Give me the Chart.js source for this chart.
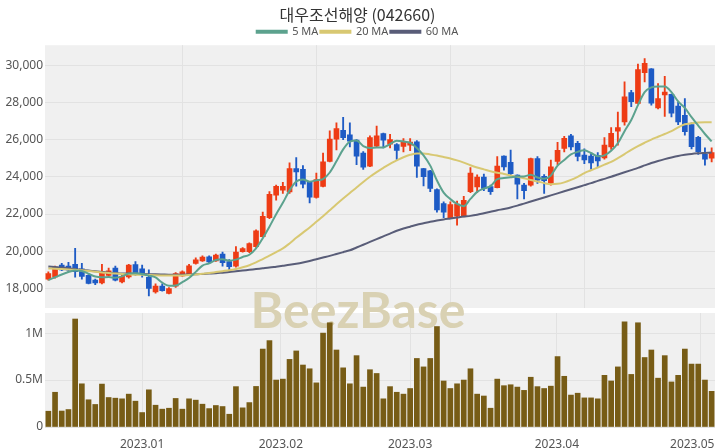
<!DOCTYPE html>
<html>
<head>
<meta charset="utf-8">
<script src="https://cdn.jsdelivr.net/npm/chart.js@4.4.1/dist/chart.umd.min.js"></script>
<style>
  html, body { margin: 0; padding: 0; background: #fff; }
  #wrap { position: relative; width: 720px; height: 448px; }
  #priceBox { position: absolute; left: 0; top: 0; width: 720px; height: 310px; }
  #volBox { position: absolute; left: 0; top: 310px; width: 720px; height: 138px; }
  canvas { display: block; }
</style>
</head>
<body>
<div id="wrap">
  <div id="priceBox"><canvas id="price" width="720" height="310"></canvas></div>
  <div id="volBox"><canvas id="volume" width="720" height="138"></canvas></div>
</div>
<script>
// daily candles, oldest first (100 trading days, Dec 2022 - May 2023)
const opens = [18500,18620,19250,19200,19300,19050,18700,18450,18300,18700,
  19100,18350,18620,19280,19050,18600,17820,18130,17740,18120,
  18680,18720,19340,19480,19700,19480,19850,19450,19200,19970,
  19970,20240,20780,21810,23010,23280,23190,24440,24400,23700,
  22890,23480,24830,26020,26500,26250,25970,25270,24570,25640,
  26320,25750,25730,25630,25700,25880,24440,24320,23310,22560,
  21800,21880,21880,23200,23460,23990,23480,23420,25110,24780,
  24090,23550,23550,24980,24020,23640,24820,25520,26200,25800,
  25160,25110,25150,25020,25610,26450,26950,28530,27940,29600,
  29800,27700,28400,28430,27800,27300,26800,26120,25200,25000];
const highs = [18900,19200,19350,19400,20150,19350,18750,18500,19300,19100,
  19200,18700,19300,19450,19250,19000,18250,18250,18050,18850,
  18950,19300,19650,19750,19750,19850,19950,19550,20250,20200,
  20450,21150,22110,23200,23550,23700,24750,25030,24600,23750,
  24200,25270,26470,26900,27200,26900,26000,25350,26200,26720,
  26350,26280,25780,26050,26050,25950,24450,24350,23350,22650,
  22650,22700,22950,24500,24100,24150,23550,25080,25120,25430,
  24100,23650,25000,25080,24120,24900,25850,26180,26280,25900,
  25500,25250,25300,26100,26650,27480,29100,28650,30060,30350,
  29820,29010,29400,28450,28000,28200,26900,26180,25550,25550];
const lows = [18450,18550,18950,18900,18600,18500,18250,18200,18250,18600,
  18400,18300,18550,18700,18600,17600,17750,17850,17700,18050,
  18650,18700,19300,19450,19350,19450,19200,19000,19150,19950,
  19920,20200,20750,21750,22750,23100,23100,23490,23400,22600,
  22850,23450,24800,25450,26000,25600,24650,24400,24550,25600,
  25550,25550,24930,25330,25400,23960,23510,23200,22100,21800,
  21750,21400,21850,23150,23150,23250,23050,23400,24350,24100,
  22810,22810,23500,23650,23100,23550,24650,25340,25450,24850,
  24710,24410,24500,24950,25470,25700,26770,27770,27940,29100,
  27850,27650,27250,27220,26800,26230,25500,25200,24630,24800];
const closes = [18800,19150,19000,18980,18900,18650,18270,18300,18900,18950,
  18450,18650,19250,18800,18750,18000,18130,17880,18000,18800,
  18890,19220,19540,19680,19430,19800,19380,19170,19960,20140,
  20410,21090,21880,23060,23490,23490,24440,24260,23600,22900,
  23850,24800,26020,26590,26100,25920,25110,24520,26110,26200,
  25970,26000,25420,25900,25870,24570,24000,23370,22220,22100,
  22500,22530,22740,24200,23990,23370,23200,24570,24530,24170,
  23600,23250,24980,23820,23790,24530,25420,26070,25600,25090,
  24900,24750,24850,25700,26340,26650,28300,28030,29760,30100,
  27950,28200,28550,27420,26950,26420,25620,25350,24950,25300];
const volumes = [168000,370000,170000,186000,1150000,460000,290000,240000,457000,314000,
  307000,300000,350000,275000,154000,396000,232000,190000,200000,304000,
  190000,300000,286000,243000,196000,229000,218000,136000,430000,204000,
  260000,432000,830000,920000,500000,510000,720000,810000,660000,620000,
  470000,1000000,1110000,820000,630000,460000,760000,425000,610000,570000,
  300000,430000,370000,350000,410000,730000,640000,730000,1070000,490000,
  410000,460000,500000,620000,350000,330000,200000,510000,440000,450000,
  425000,390000,530000,430000,410000,435000,750000,540000,340000,360000,
  310000,310000,300000,550000,490000,640000,1120000,560000,1110000,740000,
  820000,520000,760000,480000,550000,830000,670000,670000,500000,380000];

// moving averages as drawn on the chart
const ma5 = [18450,18600,18750,18880,18970,18940,18800,18640,18600,18610,
  18580,18650,18800,18820,18780,18690,18590,18310,18150,18160,
  18340,18560,18890,19230,19350,19530,19570,19490,19550,19690,
  19810,20150,20700,21320,21990,22600,23270,23750,23860,23740,
  23810,23880,24230,24830,25470,25890,25950,25650,25550,25570,
  25580,25760,25940,25900,25830,25550,25150,24600,23800,23150,
  22800,22540,22420,22810,23190,23370,23500,23870,23930,23970,
  24010,24020,24110,23960,23890,24070,24600,24900,25200,25340,
  25420,25280,25100,25150,25400,25800,26450,27050,27850,28550,
  28800,28850,28850,28550,28050,27700,27200,26750,26300,25900];
const ma20 = [19070,19060,19040,19020,19000,18980,18940,18900,18860,18830,
  18800,18780,18760,18740,18730,18720,18710,18700,18690,18690,
  18700,18720,18750,18790,18830,18880,18930,18980,19050,19140,
  19250,19400,19580,19760,19950,20150,20420,20720,21000,21280,
  21580,21880,22200,22520,22830,23130,23420,23720,24000,24250,
  24480,24700,24880,25050,25180,25250,25250,25200,25140,25060,
  24980,24880,24760,24620,24500,24400,24300,24220,24150,24070,
  24000,23920,23830,23750,23660,23600,23620,23700,23830,24000,
  24200,24350,24500,24650,24800,25000,25220,25450,25650,25830,
  26000,26150,26300,26450,26650,26820,26880,26920,26930,26930];
const ma60 = [19180,19150,19120,19080,19040,19000,18960,18920,18880,18850,
  18830,18810,18800,18790,18780,18770,18760,18750,18740,18740,
  18740,18750,18760,18780,18800,18820,18850,18880,18920,18960,
  19000,19040,19080,19120,19170,19220,19270,19330,19400,19480,
  19570,19660,19750,19850,19950,20050,20200,20350,20500,20650,
  20800,20950,21100,21220,21320,21420,21500,21580,21650,21710,
  21760,21810,21860,21900,21960,22040,22120,22200,22270,22350,
  22450,22560,22670,22780,22890,23000,23110,23220,23330,23440,
  23550,23660,23780,23890,24000,24120,24240,24360,24480,24610,
  24740,24850,24950,25040,25120,25180,25230,25260,25280,25300];

const priceTicks = [18000,20000,22000,24000,26000,28000,30000];
const volumeTicks = [0,500000,1000000];
const monthLabels = ['2023.01','2023.02','2023.03','2023.04','2023.05'];
const monthStart = [14, 34.7, 54, 75.9, 97.3]; // index position of each month boundary

const UP = '#ee3c15', DOWN = '#1e5bc5';
const GRID = '#e2e2e2';
const idx = closes.map((_, i) => i);
const candleColors = closes.map((c, i) => c >= opens[i] ? UP : DOWN);
const xMin = -0.5, xMax = closes.length - 0.5;

const plotBg = {
  id: 'plotBg',
  beforeDraw(chart) {
    const {ctx, chartArea: a} = chart;
    ctx.save();
    ctx.fillStyle = '#f0f0f0';
    ctx.fillRect(a.left, a.top, a.right - a.left, a.bottom - a.top);
    ctx.restore();
  }
};

const watermark = {
  id: 'watermark',
  beforeDatasetsDraw(chart, args, opts) {
    const ctx = chart.ctx;
    ctx.save();
    ctx.font = 'bold 50px Lato';
    ctx.fillStyle = '#d9d1b3';
    ctx.textAlign = 'center';
    ctx.textBaseline = 'alphabetic';
    ctx.fillText('BeezBase', 358, 328 - opts.top);
    ctx.restore();
  }
};

const tickFont = {family: 'Noto Sans', size: 12};
// no extra room for half tick labels above/below the plot
const noPad = s => { s.paddingTop = 0; s.paddingBottom = 0; s.width = 45; };

new Chart(document.getElementById('price'), {
  type: 'bar',
  data: {
    datasets: [
      {type: 'line', label: '5 MA', data: ma5.map((v, i) => ({x: i, y: v})),
        borderColor: '#5ca28e', backgroundColor: '#5ca28e', borderWidth: 2,
        pointRadius: 0, cubicInterpolationMode: 'monotone'},
      {type: 'line', label: '20 MA', data: ma20.map((v, i) => ({x: i, y: v})),
        borderColor: '#d8c872', backgroundColor: '#d8c872', borderWidth: 2,
        pointRadius: 0, cubicInterpolationMode: 'monotone'},
      {type: 'line', label: '60 MA', data: ma60.map((v, i) => ({x: i, y: v})),
        borderColor: '#595d78', backgroundColor: '#595d78', borderWidth: 2,
        pointRadius: 0, cubicInterpolationMode: 'monotone'},
      {label: 'wick', data: idx.map(i => ({x: i, y: [lows[i], highs[i]]})),
        backgroundColor: candleColors, barThickness: 1.2, grouped: false},
      {label: 'body', data: idx.map(i => ({x: i, y: [opens[i], closes[i]]})),
        backgroundColor: candleColors, barThickness: 5, grouped: false}
    ]
  },
  options: {
    responsive: false,
    animation: false,
    layout: {padding: {left: 0, right: 5, top: 0, bottom: 2}},
    scales: {
      x: {
        type: 'linear', min: xMin, max: xMax, offset: false,
        afterBuildTicks: s => { s.ticks = [20, 40, 60, 80].map(v => ({value: v})); },
        ticks: {display: false},
        grid: {color: GRID, drawTicks: false, offset: false},
        border: {display: false},
        afterFit: s => { s.height = 0; }
      },
      y: {
        min: 16950, max: 31070,
        afterBuildTicks: s => { s.ticks = priceTicks.map(v => ({value: v})); },
        ticks: {callback: v => v.toLocaleString('en-US'), color: '#555', font: tickFont, padding: 2},
        grid: {color: GRID, drawTicks: false},
        border: {display: false},
        afterFit: noPad
      }
    },
    plugins: {
      title: {
        display: true, text: '대우조선해양 (042660)', color: '#333',
        font: {family: 'Noto Sans CJK KR', size: 16, weight: 'normal'},
        padding: {top: 5, bottom: 0}
      },
      legend: {
        maxHeight: 21,
        labels: {
          filter: item => item.datasetIndex < 3,
          boxWidth: 30, boxHeight: 2, color: '#555',
          font: {family: 'Noto Sans', size: 11}, padding: 2
        }
      },
      tooltip: {enabled: false},
      watermark: {top: 0}
    }
  },
  plugins: [plotBg, watermark]
});

new Chart(document.getElementById('volume'), {
  type: 'bar',
  data: {
    datasets: [{
      label: '거래량', data: idx.map(i => ({x: i, y: volumes[i]})),
      backgroundColor: '#775c16', barThickness: 5
    }]
  },
  options: {
    responsive: false,
    animation: false,
    layout: {padding: {left: 0, right: 5, top: 3, bottom: 0}},
    scales: {
      x: {
        type: 'linear', min: xMin, max: xMax, offset: false,
        // keep the last month label inside the plot
        afterBuildTicks: s => { s.ticks = monthStart.map(v => ({value: Math.min(v, xMax - 3.4)})); },
        ticks: {callback: (v, k) => monthLabels[k], color: '#555', font: tickFont,
          padding: 2, autoSkip: false, maxRotation: 0},
        grid: {display: false},
        border: {display: false},
        afterFit: s => { s.height = 21; }
      },
      xg: {
        axis: 'x', type: 'linear', position: 'bottom', min: xMin, max: xMax, offset: false,
        afterBuildTicks: s => { s.ticks = monthStart.map(v => ({value: v})); },
        ticks: {display: false},
        grid: {color: GRID, drawTicks: false, offset: false},
        border: {display: false},
        afterFit: s => { s.height = 0; }
      },
      y: {
        min: 0, max: 1214000,
        afterBuildTicks: s => { s.ticks = volumeTicks.map(v => ({value: v})); },
        ticks: {callback: v => v === 0 ? '0' : (v / 1e6) + 'M', color: '#555', font: tickFont, padding: 2},
        grid: {color: GRID, drawTicks: false},
        border: {display: false},
        afterFit: noPad
      }
    },
    plugins: {
      legend: {display: false},
      tooltip: {enabled: false},
      watermark: {top: 310}
    }
  },
  plugins: [plotBg, watermark]
});
</script>
</body>
</html>
